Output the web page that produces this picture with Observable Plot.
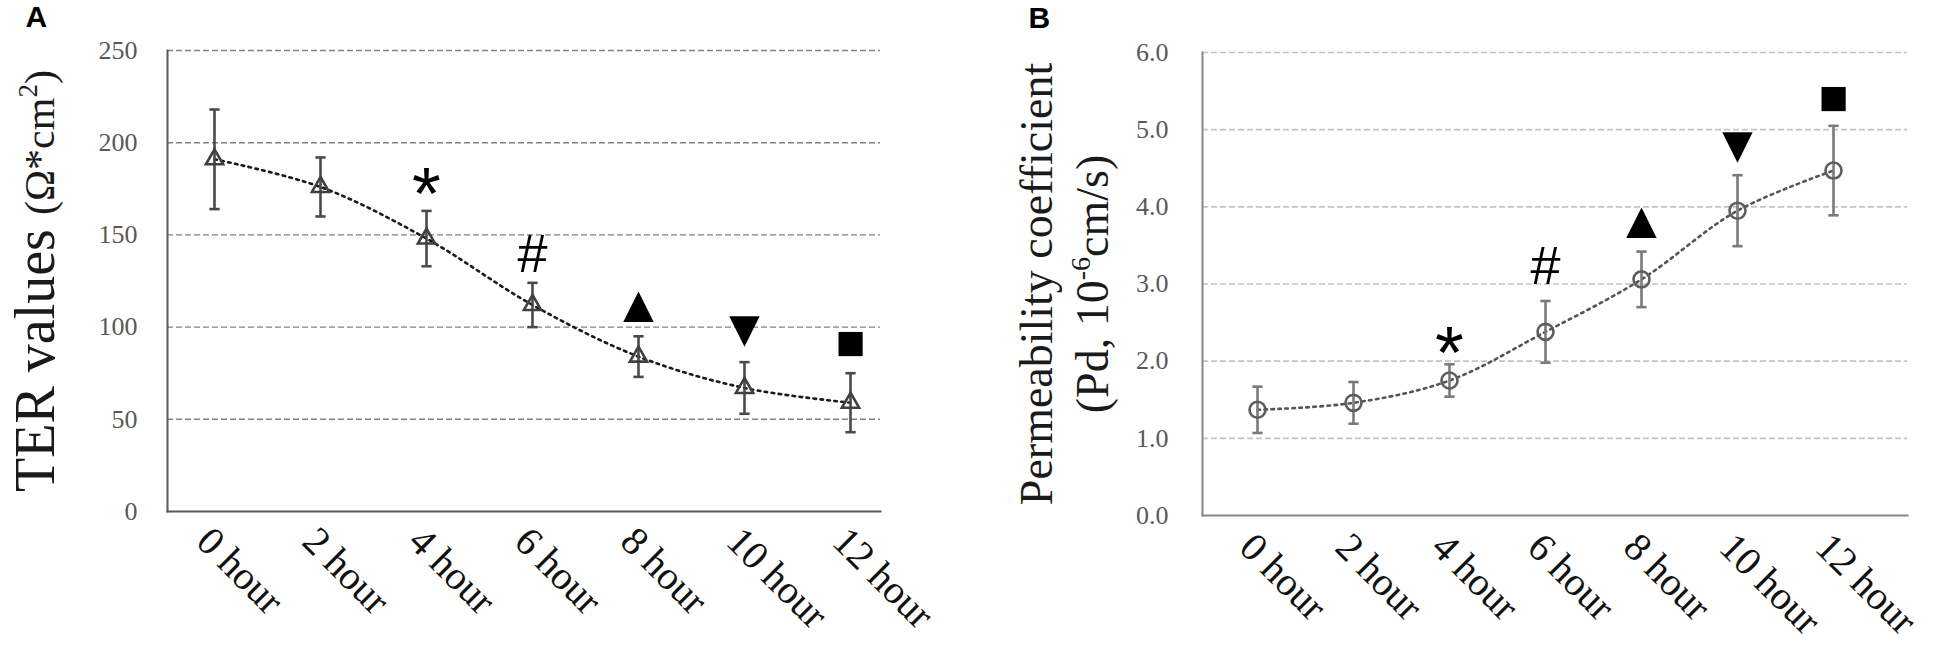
<!DOCTYPE html>
<html><head><meta charset="utf-8">
<script src="https://cdn.jsdelivr.net/npm/d3@7"></script>
<script src="https://cdn.jsdelivr.net/npm/@observablehq/plot@0.6"></script>
<style>
body{margin:0;background:#fff;}
#wrap{display:flex;width:1950px;height:645px;overflow:hidden;}
#wrap svg{display:block;}
</style></head><body><div id="wrap"></div>
<script>
// ---- data ----
const hours = ["0 hour","2 hour","4 hour","6 hour","8 hour","10 hour","12 hour"];
const terMean = [191, 176, 148, 112, 84, 67, 59];
const terErr  = [27, 16, 15, 12, 11, 14, 16];
const pdMean  = [1.37, 1.46, 1.75, 2.38, 3.06, 3.95, 4.47];
const pdErr   = [0.30, 0.27, 0.21, 0.40, 0.36, 0.46, 0.58];
const signif  = ["", "", "*", "#", "▲", "▼", "■"];
const terTicks = [0, 50, 100, 150, 200, 250];
const pdTicks  = [0, 1, 2, 3, 4, 5, 6];

const W = 975, H = 645;
const serif = "'Liberation Serif','Times New Roman',serif";
const sans = "'Liberation Sans',Arial,'DejaVu Sans',sans-serif";

const rowsA = hours.map((h, i) => ({h, m: terMean[i], e: terErr[i], s: signif[i]}));
const rowsB = hours.map((h, i) => ({h, m: pdMean[i], e: pdErr[i], s: signif[i]}));

// horizontal-bar symbol for error-bar caps
const capSymbol = {draw(ctx, size) { const w = Math.sqrt(size) / 2; ctx.moveTo(-w, 0); ctx.lineTo(w, 0); }};

function errMarks(rows, color) {
  return [
    Plot.ruleX(rows, {x: "h", y1: d => d.m - d.e, y2: d => d.m + d.e, stroke: color, strokeWidth: 2.6}),
    Plot.dot(rows, {x: "h", y: d => d.m + d.e, symbol: capSymbol, r: 5.8, stroke: color, strokeWidth: 2.6, fill: "none"}),
    Plot.dot(rows, {x: "h", y: d => d.m - d.e, symbol: capSymbol, r: 5.8, stroke: color, strokeWidth: 2.6, fill: "none"})
  ];
}

function annMarks(rows, cfg) {
  const base = {x: "h", y: d => d.m + d.e, text: "s", fontFamily: sans, fill: "#000", lineAnchor: "middle"};
  return [
    Plot.text(rows.filter(d => d.s === "*"), {...base, fontSize: 74, dy: cfg.star}),
    Plot.text(rows.filter(d => d.s === "#"), {...base, fontSize: 54, dy: cfg.hash}),
    Plot.text(rows.filter(d => d.s === "▲"), {...base, fontSize: 52, dy: cfg.up}),
    Plot.text(rows.filter(d => d.s === "▼"), {...base, fontSize: 52, dy: cfg.down}),
    Plot.text(rows.filter(d => d.s === "■"), {...base, fontSize: 50, dy: cfg.sq})
  ];
}

// ---- Panel A ----
const A = Plot.plot({
  width: W, height: H,
  marginLeft: 167, marginRight: 95, marginTop: 50, marginBottom: 134,
  style: {fontFamily: serif, background: "#fff", overflow: "visible"},
  x: {type: "point", domain: hours, range: [213, 850], padding: 0, axis: null},
  y: {domain: [0, 250], axis: null},
  marks: [
    Plot.ruleY(terTicks.filter(t => t > 0), {stroke: "#808080", strokeWidth: 1.4, strokeDasharray: "6,3"}),
    Plot.frame({anchor: "left", stroke: "#595959", strokeWidth: 2}),
    Plot.frame({anchor: "bottom", stroke: "#595959", strokeWidth: 2}),
    Plot.axisY({ticks: terTicks, label: null, tickSize: 0, tickPadding: 30, fontSize: 26, color: "#595959"}),
    Plot.line(rowsA, {x: "h", y: "m", curve: "catmull-rom", stroke: "#1a1a1a", strokeWidth: 2.6, strokeDasharray: "2.6,4.4"}),
    ...errMarks(rowsA, "#4a4a4a"),
    Plot.dot(rowsA, {x: "h", y: "m", symbol: "triangle", r: 6.4, stroke: "#404040", strokeWidth: 2.6, fill: "none"}),
    ...annMarks(rowsA, {star: -16, hash: -28, up: -31, down: -33, sq: -30}),
    Plot.text(hours, {x: d => d, frameAnchor: "bottom", dy: 12, rotate: 45, textAnchor: "start", lineAnchor: "top", fontSize: 40, fill: "#111"}),
    Plot.text(["TER values (Ω*cm2)"], {frameAnchor: "left", dx: 36 - 167, rotate: -90, textAnchor: "middle", lineAnchor: "middle", fontSize: 56, fill: "#1a1a1a"}),
    Plot.text(["A"], {frameAnchor: "top-left", dx: 25 - 167, dy: 5 - 50, textAnchor: "start", lineAnchor: "top", fontSize: 30, fontWeight: "bold", fontFamily: sans, fill: "#000"})
  ]
});

// ---- Panel B ----
const B = Plot.plot({
  width: W, height: H,
  marginLeft: 227, marginRight: 43, marginTop: 52, marginBottom: 130,
  style: {fontFamily: serif, background: "#fff", overflow: "visible"},
  x: {type: "point", domain: hours, range: [279, 860], padding: 0, axis: null},
  y: {domain: [0, 6], axis: null},
  marks: [
    Plot.ruleY(pdTicks.filter(t => t > 0), {stroke: "#c4c4c4", strokeWidth: 1.6, strokeDasharray: "6,3"}),
    Plot.frame({anchor: "left", stroke: "#868686", strokeWidth: 2}),
    Plot.frame({anchor: "bottom", stroke: "#868686", strokeWidth: 2}),
    Plot.axisY({ticks: pdTicks, label: null, tickFormat: d => d.toFixed(1), tickSize: 0, tickPadding: 34, fontSize: 26, color: "#595959"}),
    Plot.line(rowsB, {x: "h", y: "m", curve: "catmull-rom", stroke: "#555", strokeWidth: 2.6, strokeDasharray: "2.6,4.4"}),
    ...errMarks(rowsB, "#7a7a7a"),
    Plot.dot(rowsB, {x: "h", y: "m", r: 8, stroke: "#5e5e5e", strokeWidth: 2.6, fill: "none"}),
    ...annMarks(rowsB, {star: -10, hash: -34, up: -30, down: -30, sq: -28}),
    Plot.text(hours, {x: d => d, frameAnchor: "bottom", dy: 14, rotate: 45, textAnchor: "start", lineAnchor: "top", fontSize: 40, fill: "#111"}),
    Plot.text(["Permeability coefficient"], {frameAnchor: "left", dx: 62 - 227, rotate: -90, textAnchor: "middle", lineAnchor: "middle", fontSize: 46, fill: "#1a1a1a"}),
    Plot.text(["(Pd, 10-6cm/s)"], {frameAnchor: "left", dx: 118 - 227, rotate: -90, textAnchor: "middle", lineAnchor: "middle", fontSize: 46, fill: "#1a1a1a"}),
    Plot.text(["B"], {frameAnchor: "top-left", dx: 1028 - 975 - 227, dy: 6 - 52, textAnchor: "start", lineAnchor: "top", fontSize: 30, fontWeight: "bold", fontFamily: sans, fill: "#000"})
  ]
});

// superscripts in axis titles
function rich(svg, full, build) {
  d3.select(svg).selectAll("text").filter(function () { return this.textContent === full; })
    .each(function () { const t = d3.select(this); t.text(""); build(t); });
}
rich(A, "TER values (Ω*cm2)", t => {
  t.append("tspan").text("TER values ");
  t.append("tspan").attr("font-size", 42).text("(Ω*cm");
  t.append("tspan").attr("font-size", 27).attr("dy", -17).text("2");
  t.append("tspan").attr("font-size", 42).attr("dy", 17).text(")");
});
rich(B, "(Pd, 10-6cm/s)", t => {
  t.append("tspan").text("(Pd, 10");
  t.append("tspan").attr("font-size", 28).attr("dy", -18).text("-6");
  t.append("tspan").attr("dy", 18).text("cm/s)");
});

document.getElementById("wrap").append(A, B);
</script></body></html>
